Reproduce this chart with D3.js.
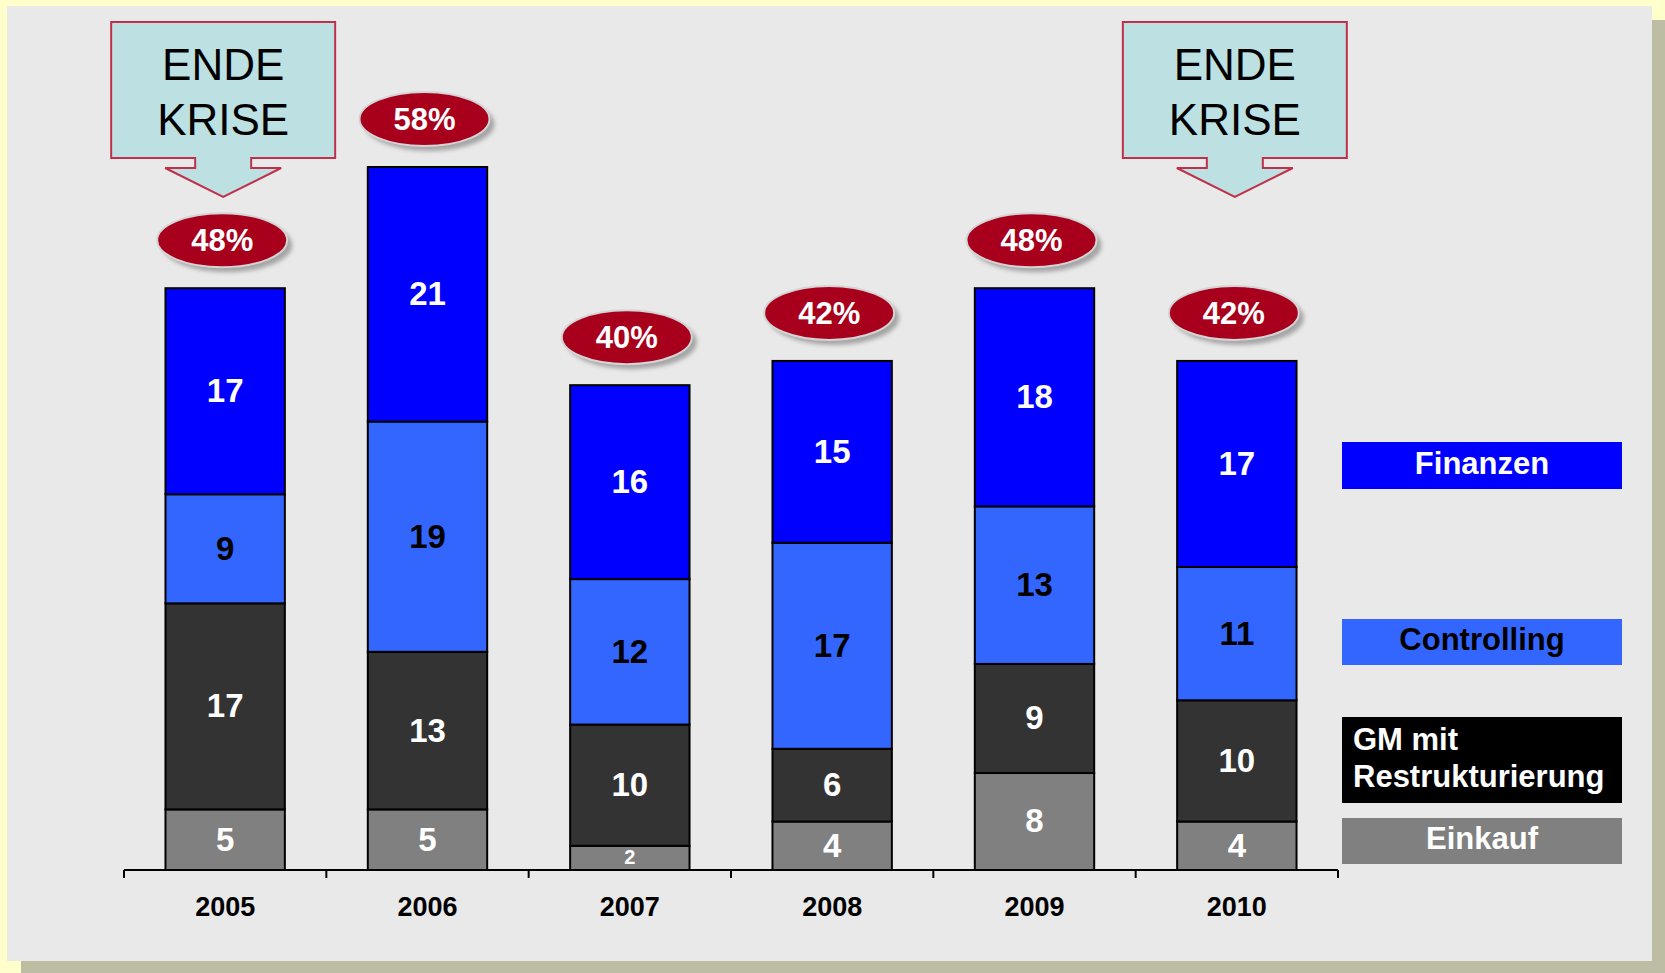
<!DOCTYPE html>
<meta charset="utf-8">
<style>
body { margin: 0; background: #ffffcc; }
text { font-family: "Liberation Sans", Arial, sans-serif; }
.axis line, .axis path { stroke: #000; stroke-width: 2px; fill: none; }
.val { font-weight: bold; fill: #fff; text-anchor: middle; }
.year { font-weight: bold; font-size: 27px; text-anchor: middle; }
.pct { font-weight: bold; font-size: 31px; fill: #fff; text-anchor: middle; }
.krise { font-size: 44px; text-anchor: middle; }
.leg { font-weight: bold; font-size: 31px; }
</style>
<body>
<script src="https://cdn.jsdelivr.net/npm/d3@7"></script>
<script>

// data
var years = ["2005", "2006", "2007", "2008", "2009", "2010"];
var einkauf     = [5, 5, 2, 4, 8, 4];
var gm          = [17, 13, 10, 6, 9, 10];
var controlling = [9, 19, 12, 17, 13, 11];
var finanzen    = [17, 21, 16, 15, 18, 17];
var seriesNames = ["Einkauf", "GM mit Restrukturierung", "Controlling", "Finanzen"];
var crisisYears = ["2005", "2010"];

var colors = ["#808080", "#333333", "#3366ff", "#0000ff"];
var textColors = ["#fff", "#fff", "#000", "#fff"];

var rows = years.map(function(y, i) {
  return {year: y, Einkauf: einkauf[i], "GM mit Restrukturierung": gm[i],
          Controlling: controlling[i], Finanzen: finanzen[i]};
});
var stacked = d3.stack().keys(seriesNames)(rows);

var width = 1665, height = 973;

var svg = d3.select("body").append("svg")
    .attr("width", width)
    .attr("height", height);

var defs = svg.append("defs");
defs.append("filter").attr("id", "blur")
    .attr("x", "-20%").attr("y", "-20%").attr("width", "140%").attr("height", "140%")
  .append("feGaussianBlur").attr("stdDeviation", 2);

// background panel + shadow
svg.append("rect").attr("x", 21).attr("y", 20).attr("width", 1644).attr("height", 953).attr("fill", "#bdbda3");
svg.append("rect").attr("x", 7).attr("y", 6).attr("width", 1645).attr("height", 955).attr("fill", "#e9e9e9");

var x = d3.scaleBand().domain(years).range([124, 1338]).paddingInner(0.41).paddingOuter(0.205);
var y = d3.scaleLinear().domain([0, 58]).range([870, 167]);

// bars
var layer = svg.append("g").selectAll("g")
    .data(stacked)
  .enter().append("g")
    .attr("fill", function(d, i) { return colors[i]; });

layer.selectAll("rect")
    .data(function(d) { return d; })
  .enter().append("rect")
    .attr("x", function(d) { return x(d.data.year); })
    .attr("y", function(d) { return y(d[1]); })
    .attr("width", x.bandwidth())
    .attr("height", function(d) { return y(d[0]) - y(d[1]); })
    .attr("stroke", "#000")
    .attr("stroke-width", 2);

layer.selectAll("text")
    .data(function(d, i) { return d.map(function(p) { return {p: p, i: i}; }); })
  .enter().append("text")
    .attr("class", "val")
    .attr("x", function(d) { return x(d.p.data.year) + x.bandwidth() / 2; })
    .attr("y", function(d) {
      var fs = (d.p[1] - d.p[0]) < 3 ? 20 : 33;
      return (y(d.p[0]) + y(d.p[1])) / 2 + fs * 0.33;
    })
    .style("font-size", function(d) { return ((d.p[1] - d.p[0]) < 3 ? 20 : 33) + "px"; })
    .style("fill", function(d) { return textColors[d.i]; })
    .text(function(d) { return d.p[1] - d.p[0]; });

// axis
var axis = svg.append("g").attr("class", "axis");
var step = x.step();
axis.append("line").attr("x1", 124).attr("x2", 1338).attr("y1", 870).attr("y2", 870);
axis.selectAll(".tick")
    .data(d3.range(years.length + 1))
  .enter().append("line")
    .attr("x1", function(d) { return 124 + d * step; })
    .attr("x2", function(d) { return 124 + d * step; })
    .attr("y1", 870).attr("y2", 878);

svg.append("g").selectAll("text")
    .data(years)
  .enter().append("text")
    .attr("class", "year")
    .attr("x", function(d) { return x(d) + x.bandwidth() / 2; })
    .attr("y", 916)
    .text(function(d) { return d; });

// percentage bubbles
var totals = rows.map(function(r, i) { return {year: r.year, total: einkauf[i] + gm[i] + controlling[i] + finanzen[i]}; });
var bubble = svg.append("g").selectAll("g")
    .data(totals)
  .enter().append("g")
    .attr("transform", function(d) {
      return "translate(" + (x(d.year) + x.bandwidth() / 2 - 3) + "," + (y(d.total) - 48) + ")";
    });
bubble.append("ellipse").attr("cx", 5).attr("cy", 5).attr("rx", 65).attr("ry", 27)
    .attr("fill", "#888").attr("opacity", 0.7).attr("filter", "url(#blur)");
bubble.append("ellipse").attr("rx", 65).attr("ry", 27)
    .attr("fill", "#a8001c").attr("stroke", "#d4d4d4").attr("stroke-width", 2);
bubble.append("text").attr("class", "pct").attr("y", 11)
    .text(function(d) { return d.total + "%"; });

// ENDE KRISE callouts
var callout = svg.append("g").selectAll("g")
    .data(crisisYears)
  .enter().append("g")
    .attr("transform", function(d) { return "translate(" + (x(d) + x.bandwidth() / 2 - 2) + ",0)"; });
callout.append("path")
    .attr("d", "M-112,22H112V158H28V168H58L0,197L-58,168H-28V158H-112Z")
    .attr("fill", "#bde0e3")
    .attr("stroke", "#c0304a")
    .attr("stroke-width", 2);
callout.append("text").attr("class", "krise").attr("y", 80).text("ENDE");
callout.append("text").attr("class", "krise").attr("y", 135).text("KRISE");

// legend
var legend = [
  {name: "Finanzen", y0: 442, y1: 489, fill: "#0000ff", color: "#fff"},
  {name: "Controlling", y0: 619, y1: 665, fill: "#3366ff", color: "#000"},
  {name: "GM mit Restrukturierung", y0: 717, y1: 803, fill: "#000000", color: "#fff"},
  {name: "Einkauf", y0: 818, y1: 864, fill: "#808080", color: "#fff"}
];
var lg = svg.append("g").selectAll("g")
    .data(legend)
  .enter().append("g");
lg.append("rect")
    .attr("x", 1342).attr("width", 280)
    .attr("y", function(d) { return d.y0; })
    .attr("height", function(d) { return d.y1 - d.y0; })
    .attr("fill", function(d) { return d.fill; });
lg.filter(function(d) { return d.name !== "GM mit Restrukturierung"; })
  .append("text")
    .attr("class", "leg")
    .attr("text-anchor", "middle")
    .attr("x", 1482)
    .attr("y", function(d) { return (d.y0 + d.y1) / 2 + 8; })
    .style("fill", function(d) { return d.color; })
    .text(function(d) { return d.name; });
var gmText = lg.filter(function(d) { return d.name === "GM mit Restrukturierung"; })
  .append("text")
    .attr("class", "leg")
    .style("fill", "#fff");
gmText.append("tspan").attr("x", 1353).attr("y", 750).text("GM mit");
gmText.append("tspan").attr("x", 1353).attr("y", 787).text("Restrukturierung");

</script>
